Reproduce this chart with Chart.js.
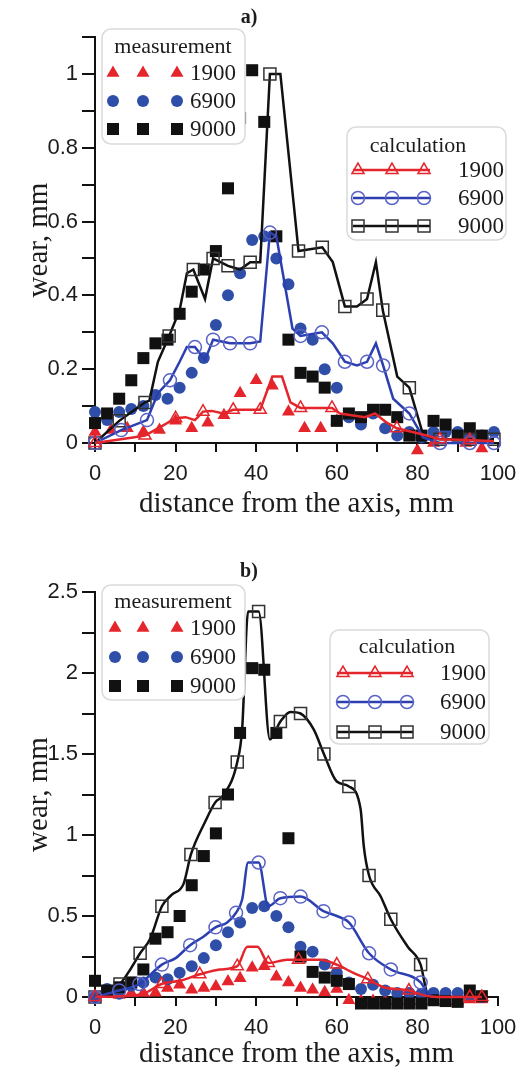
<!DOCTYPE html>
<html>
<head>
<meta charset="utf-8">
<script src="https://cdn.jsdelivr.net/npm/chart.js@4.4.0/dist/chart.umd.min.js"></script>
<style>
html, body { margin: 0; padding: 0; background: #fff; }
canvas { display: block; }
</style>
</head>
<body>
<canvas id="graficoA" width="526" height="537"></canvas>
<canvas id="graficoB" width="526" height="538"></canvas>
<script>
/* Desgaste x distância do eixo — painéis a) e b), medição vs cálculo */

// --- PAINEL A: MEDIÇÃO ---
const A_MED_X = [0, 3, 6, 9, 12, 15, 18, 21, 24, 27, 30, 33, 36, 39, 42, 45, 48, 51, 54, 57, 60, 63, 66, 69, 72, 75, 78, 81, 84, 87, 90, 93, 96, 99];
const A_MED_9000 = [0.054, 0.08, 0.12, 0.17, 0.23, 0.27, 0.28, 0.35, 0.41, 0.47, 0.52, 0.69, 0.88, 1.01, 0.87, 0.56, 0.28, 0.19, 0.18, 0.15, 0.06, 0.08, 0.07, 0.09, 0.09, 0.07, 0.02, 0.02, 0.06, 0.05, 0.02, 0.04, 0.02, null];
const A_MED_6900 = [0.084, 0.062, 0.084, 0.092, 0.10, 0.13, 0.12, 0.15, 0.19, 0.23, 0.32, 0.40, 0.46, 0.55, 0.56, 0.50, 0.43, 0.31, 0.28, 0.20, 0.15, 0.07, 0.05, 0.08, 0.04, 0.02, 0.03, 0.015, 0.03, 0.03, 0.03, 0.02, 0.02, 0.03];
const A_MED_X_1900 = [0, 4, 8, 12, 16, 20, 24, 28, 32, 36, 40, 44, 48, 52, 56, 60, 64, 68, 72, 76, 80, 84, 88, 92, 96];
const A_MED_1900 = [0.03, 0.035, 0.04, 0.03, 0.035, 0.06, 0.04, 0.055, 0.075, 0.135, 0.17, 0.155, 0.085, 0.04, 0.04, 0.06, -0.025, -0.05, -0.03, -0.03, -0.02, 0.0, -0.04, 0.0, -0.015];

// --- PAINEL A: CÁLCULO (M = posição com marcador) ---
const A_CALC_9000_X = [0, 6, 12.4, 13.5, 15.6, 18.4, 21, 22.8, 24.4, 27.3, 29.3, 33, 36, 38.5, 41, 43.4, 46, 50.5, 56.4, 59, 62, 65, 67.5, 69.7, 71.4, 75, 78, 81.6, 85.6, 93, 99];
const A_CALC_9000_Y = [0, 0.06, 0.11, 0.115, 0.22, 0.29, 0.36, 0.46, 0.47, 0.39, 0.50, 0.48, 0.47, 0.49, 0.49, 1.0, 1.0, 0.52, 0.53, 0.49, 0.37, 0.37, 0.39, 0.49, 0.36, 0.18, 0.15, 0.015, 0.01, 0.01, 0.01];
const A_CALC_9000_M = [1, 1, 1, 0, 0, 1, 0, 0, 1, 0, 1, 1, 0, 1, 0, 1, 0, 1, 1, 0, 1, 0, 1, 0, 1, 0, 1, 0, 1, 1, 1];
const A_CALC_6900_X = [0, 6.5, 12.9, 15.6, 18.6, 21, 22.8, 24.8, 27.3, 29.3, 33.5, 38.5, 41, 43.4, 45, 49, 51, 56.3, 59, 62, 65, 67.5, 69.7, 71.5, 74, 78, 81.4, 85.6, 93, 99];
const A_CALC_6900_Y = [0, 0.035, 0.062, 0.135, 0.17, 0.22, 0.26, 0.26, 0.225, 0.28, 0.27, 0.27, 0.275, 0.57, 0.56, 0.31, 0.29, 0.30, 0.27, 0.22, 0.21, 0.22, 0.27, 0.21, 0.12, 0.08, 0.015, 0.0, 0.0, 0.0];
const A_CALC_6900_M = [1, 1, 1, 0, 1, 0, 0, 1, 0, 1, 1, 1, 0, 1, 0, 0, 1, 1, 0, 1, 0, 1, 0, 1, 0, 1, 0, 1, 1, 1];
const A_CALC_1900_X = [0, 9.4, 12.4, 16.5, 20, 22.5, 24.8, 26.8, 29, 31.8, 34.3, 41, 44, 46.4, 48.5, 51, 58.8, 60.8, 67, 69.5, 72.4, 74.9, 80.6, 85.6, 93, 99];
const A_CALC_1900_Y = [0, 0.015, 0.02, 0.045, 0.067, 0.07, 0.062, 0.085, 0.087, 0.08, 0.09, 0.09, 0.18, 0.18, 0.11, 0.095, 0.095, 0.08, 0.07, 0.08, 0.055, 0.04, 0.025, 0.01, 0.008, 0.005];
const A_CALC_1900_M = [1, 0, 1, 0, 1, 0, 0, 1, 0, 0, 1, 1, 0, 0, 0, 1, 1, 0, 0, 0, 0, 1, 0, 1, 1, 0];

// --- PAINEL B: MEDIÇÃO ---
const B_MED_X = [0, 3, 6, 9, 12, 15, 18, 21, 24, 27, 30, 33, 36, 39, 42, 45, 48, 51, 54, 57, 60, 63, 66, 69, 72, 75, 78, 81, 84, 87, 90, 93, 96];
const B_MED_9000 = [0.10, 0.04, 0.06, 0.09, 0.17, 0.36, 0.40, 0.50, 0.69, 0.87, 1.01, 1.25, 1.63, 2.03, 2.02, 1.63, 0.98, 0.25, 0.155, 0.12, 0.10, 0.08, -0.04, -0.04, -0.04, -0.04, -0.04, -0.04, -0.02, -0.025, -0.03, 0.04, 0.005];
const B_MED_6900 = [0.0, 0.05, 0.02, 0.07, 0.09, 0.12, 0.11, 0.15, 0.19, 0.24, 0.32, 0.40, 0.46, 0.55, 0.56, 0.50, 0.43, 0.31, 0.28, 0.20, 0.15, 0.09, 0.05, 0.075, 0.04, 0.025, 0.025, 0.02, 0.025, 0.025, 0.025, 0.01, 0.0];
const B_MED_1900 = [0.0, 0.02, 0.013, 0.025, 0.025, 0.027, 0.055, 0.075, 0.045, 0.055, 0.065, 0.095, 0.115, 0.18, 0.19, 0.125, 0.09, 0.055, 0.045, 0.03, 0.05, -0.02, -0.025, -0.025, -0.025, -0.025, -0.025, -0.025, -0.025, -0.025, -0.025, -0.015, -0.015];

// --- PAINEL B: CÁLCULO ---
const B_CALC_9000_X = [0, 3, 6.2, 8.5, 11.2, 13.7, 16.6, 19, 22, 23.8, 27.3, 29.8, 32, 35.3, 36.5, 38, 40.6, 43.4, 46, 48.5, 51, 54.3, 56.8, 60, 63, 65.9, 66.7, 68, 70.9, 73.4, 77.6, 80.8, 82.5, 84];
const B_CALC_9000_Y = [0, 0.03, 0.08, 0.16, 0.27, 0.36, 0.56, 0.63, 0.70, 0.88, 1.08, 1.20, 1.25, 1.45, 1.65, 2.38, 2.38, 1.59, 1.70, 1.76, 1.75, 1.65, 1.50, 1.33, 1.30, 1.16, 0.93, 0.75, 0.62, 0.48, 0.31, 0.20, 0.02, 0.0];
const B_CALC_9000_M = [1, 0, 1, 0, 1, 0, 1, 0, 0, 1, 0, 1, 0, 1, 0, 0, 1, 0, 1, 0, 1, 0, 1, 0, 1, 0, 0, 1, 0, 1, 0, 1, 0, 0];
const B_CALC_6900_X = [0, 6, 11, 16.6, 20, 23.6, 26.8, 29.9, 32.8, 35, 36.5, 38, 40.6, 43, 46, 51, 56.7, 60, 63, 68, 73.4, 80.8, 82.6, 84];
const B_CALC_6900_Y = [0, 0.04, 0.08, 0.20, 0.24, 0.32, 0.37, 0.43, 0.46, 0.52, 0.60, 0.83, 0.83, 0.56, 0.61, 0.62, 0.53, 0.50, 0.46, 0.27, 0.17, 0.09, 0.02, 0];
const B_CALC_6900_M = [1, 1, 1, 1, 0, 1, 0, 1, 0, 1, 0, 0, 1, 0, 1, 1, 1, 0, 1, 1, 1, 1, 0, 0];
const B_CALC_1900_X = [0, 6, 12, 16.5, 21, 26, 31, 35.3, 37.8, 40.3, 43, 47.7, 50.5, 56, 60, 64, 67.7, 71.7, 77.9, 81.6, 85, 93, 96];
const B_CALC_1900_Y = [0, 0.005, 0.02, 0.08, 0.10, 0.14, 0.17, 0.19, 0.31, 0.31, 0.21, 0.23, 0.23, 0.23, 0.20, 0.15, 0.11, 0.06, 0.04, 0.01, 0, 0, 0];
const B_CALC_1900_M = [1, 0, 0, 1, 0, 1, 0, 1, 0, 0, 1, 0, 1, 0, 1, 0, 1, 0, 1, 0, 0, 1, 1];

// --- ESTILO ---
const FONTE_SERIF = '"Liberation Serif", "Times New Roman", serif';
const FONTE_SANS = '"Liberation Sans", Arial, sans-serif';
const VERMELHO = '#e4262c';
const AZUL = '#2f4ea8';
const AZUL_LINHA = '#2c3fb0';
const AZUL_ABERTO = '#5a63c6';
const PRETO = '#111111';
const COR_TEXTO = '#1c1c1c';

function serieMedida(rotulo, xs, ys, estilo, cor, raio) {
    return {
        label: rotulo,
        data: xs.map((x, i) => ({ x: x, y: ys[i] })).filter(p => p.y !== null && p.y !== undefined),
        showLine: false,
        pointStyle: estilo,
        pointRadius: raio,
        pointHoverRadius: raio,
        pointBackgroundColor: cor,
        pointBorderColor: cor,
        pointBorderWidth: 0,
        clip: false
    };
}

function serieCalculo(rotulo, xs, ys, marcas, estilo, corLinha, corMarca, raio, suave) {
    return {
        label: rotulo,
        data: xs.map((x, i) => ({ x: x, y: ys[i] })),
        showLine: true,
        borderColor: corLinha,
        borderWidth: 2.5,
        tension: 0,
        cubicInterpolationMode: suave ? 'monotone' : 'default',
        pointStyle: estilo,
        pointRadius: marcas.map(m => m ? raio : 0),
        pointHoverRadius: marcas.map(m => m ? raio : 0),
        pointBackgroundColor: 'rgba(0,0,0,0)',
        pointBorderColor: corMarca,
        pointBorderWidth: 1.5,
        clip: false
    };
}

function caminhoArredondado(ctx, x, y, w, h, r) {
    ctx.beginPath();
    ctx.moveTo(x + r, y);
    ctx.arcTo(x + w, y, x + w, y + h, r);
    ctx.arcTo(x + w, y + h, x, y + h, r);
    ctx.arcTo(x, y + h, x, y, r);
    ctx.arcTo(x, y, x + w, y, r);
    ctx.closePath();
}

// ✅ Legendas internas (medição / cálculo) desenhadas por cima do gráfico
const legendaPlugin = {
    id: 'legendas',
    afterDraw(chart, args, opcoes) {
        const ctx = chart.ctx;
        const conjuntos = chart.data.datasets;
        (opcoes.caixas || []).forEach(caixa => {
            ctx.save();
            caminhoArredondado(ctx, caixa.x, caixa.y, caixa.w, caixa.h, 9);
            ctx.fillStyle = '#ffffff';
            ctx.fill();
            ctx.strokeStyle = '#dadada';
            ctx.lineWidth = 1.5;
            ctx.stroke();

            ctx.fillStyle = COR_TEXTO;
            ctx.font = '22px ' + FONTE_SERIF;
            ctx.textAlign = 'center';
            ctx.textBaseline = 'middle';
            ctx.fillText(caixa.titulo, caixa.tituloX, caixa.tituloY);

            caixa.linhas.forEach(linha => {
                const ds = conjuntos[linha.indice];
                if (caixa.linhaDe !== undefined) {
                    ctx.strokeStyle = ds.borderColor;
                    ctx.lineWidth = 2.5;
                    ctx.beginPath();
                    ctx.moveTo(caixa.linhaDe, linha.y);
                    ctx.lineTo(caixa.linhaAte, linha.y);
                    ctx.stroke();
                }
                caixa.marcasX.forEach(mx => {
                    ctx.fillStyle = ds.pointBackgroundColor;
                    ctx.strokeStyle = ds.pointBorderColor;
                    ctx.lineWidth = ds.pointBorderWidth;
                    Chart.helpers.drawPoint(ctx, {
                        pointStyle: ds.pointStyle, radius: linha.raio, rotation: 0, borderWidth: ds.pointBorderWidth
                    }, mx, linha.y);
                });
                ctx.fillStyle = COR_TEXTO;
                ctx.font = '23px ' + FONTE_SERIF;
                ctx.textAlign = 'left';
                ctx.fillText(ds.label, caixa.textoX, linha.y + 1);
            });
            ctx.restore();
        });
    }
};

function montarGrafico(id, cfg) {
    return new Chart(document.getElementById(id), {
        type: 'scatter',
        data: { datasets: cfg.datasets },
        options: {
            responsive: false,
            devicePixelRatio: 1,
            animation: false,
            events: [],
            layout: { padding: { left: 0, right: 28, top: 0, bottom: 0 } },
            plugins: {
                legend: { display: false },
                tooltip: { enabled: false },
                title: {
                    display: true, text: cfg.titulo, color: COR_TEXTO,
                    font: { family: FONTE_SERIF, size: 20, weight: 'bold' },
                    padding: cfg.tituloPad
                },
                legendas: { caixas: cfg.caixas }
            },
            scales: {
                x: {
                    type: 'linear', min: 0, max: 100,
                    afterFit: s => { s.height = cfg.alturaX; },
                    ticks: {
                        stepSize: 10, autoSkip: false, maxRotation: 0, padding: 9, color: COR_TEXTO,
                        font: { family: FONTE_SANS, size: 22 },
                        callback: v => (Math.round(v) % 20 === 0 ? String(Math.round(v)) : '')
                    },
                    grid: { drawOnChartArea: false, color: PRETO, lineWidth: 2, tickLength: 9 },
                    border: { color: PRETO, width: 2 },
                    title: {
                        display: true, text: 'distance from the axis, mm', color: COR_TEXTO,
                        font: { family: FONTE_SERIF, size: 29 },
                        padding: { top: 0, bottom: cfg.tituloXPad }
                    }
                },
                y: {
                    min: 0, max: cfg.yMax,
                    afterFit: s => { s.width = 95; },
                    ticks: {
                        stepSize: cfg.yPasso, autoSkip: false, padding: 4, color: COR_TEXTO,
                        font: { family: FONTE_SANS, size: 22 },
                        callback: v => {
                            const k = Math.round(v / cfg.yPasso);
                            return k % 2 === 0 ? String(+(k * cfg.yPasso).toFixed(2)) : '';
                        }
                    },
                    grid: { drawOnChartArea: false, color: PRETO, lineWidth: 2, tickLength: 13 },
                    border: { color: PRETO, width: 2 },
                    title: {
                        display: true, text: 'wear, mm', color: COR_TEXTO,
                        font: { family: FONTE_SERIF, size: 29 },
                        padding: { top: 22, bottom: 0 }
                    }
                }
            }
        },
        plugins: [legendaPlugin]
    });
}

function conjuntos(calc, med, suave) {
    return [
        serieCalculo('1900', calc[0][0], calc[0][1], calc[0][2], 'triangle', VERMELHO, VERMELHO, 7, suave),
        serieCalculo('6900', calc[1][0], calc[1][1], calc[1][2], 'circle', AZUL_LINHA, AZUL_ABERTO, 6.5, suave),
        serieCalculo('9000', calc[2][0], calc[2][1], calc[2][2], 'rect', PRETO, '#333333', 8.5, suave),
        serieMedida('9000', med[2][0], med[2][1], 'rect', PRETO, 8.5),
        serieMedida('6900', med[1][0], med[1][1], 'circle', AZUL, 6),
        serieMedida('1900', med[0][0], med[0][1], 'triangle', VERMELHO, 7.5)
    ];
}

montarGrafico('graficoA', {
    titulo: 'a)',
    tituloPad: { top: 6, bottom: 7 },
    alturaX: 94,
    tituloXPad: 15,
    yMax: 1.1,
    yPasso: 0.1,
    datasets: conjuntos(
        [[A_CALC_1900_X, A_CALC_1900_Y, A_CALC_1900_M], [A_CALC_6900_X, A_CALC_6900_Y, A_CALC_6900_M], [A_CALC_9000_X, A_CALC_9000_Y, A_CALC_9000_M]],
        [[A_MED_X_1900, A_MED_1900], [A_MED_X, A_MED_6900], [A_MED_X, A_MED_9000]],
        false
    ),
    caixas: [
        {
            x: 102, y: 29, w: 143, h: 115, titulo: 'measurement', tituloX: 173, tituloY: 47,
            marcasX: [113, 143, 177], textoX: 190,
            linhas: [{ indice: 5, y: 73, raio: 7.5 }, { indice: 4, y: 101, raio: 6 }, { indice: 3, y: 129, raio: 8.5 }]
        },
        {
            x: 347, y: 127, w: 159, h: 113, titulo: 'calculation', tituloX: 418, tituloY: 146,
            marcasX: [358, 392, 424], textoX: 458, linhaDe: 353, linhaAte: 430,
            linhas: [{ indice: 0, y: 170, raio: 7 }, { indice: 1, y: 198, raio: 6.5 }, { indice: 2, y: 226, raio: 8.5 }]
        }
    ]
});

montarGrafico('graficoB', {
    titulo: 'b)',
    tituloPad: { top: 23, bottom: 8 },
    alturaX: 78,
    tituloXPad: 3,
    yMax: 2.5,
    yPasso: 0.25,
    datasets: conjuntos(
        [[B_CALC_1900_X, B_CALC_1900_Y, B_CALC_1900_M], [B_CALC_6900_X, B_CALC_6900_Y, B_CALC_6900_M], [B_CALC_9000_X, B_CALC_9000_Y, B_CALC_9000_M]],
        [[B_MED_X, B_MED_1900], [B_MED_X, B_MED_6900], [B_MED_X, B_MED_9000]],
        true
    ),
    caixas: [
        {
            x: 102, y: 48, w: 143, h: 115, titulo: 'measurement', tituloX: 173, tituloY: 65,
            marcasX: [115, 143, 177], textoX: 190,
            linhas: [{ indice: 5, y: 91, raio: 7.5 }, { indice: 4, y: 120, raio: 6 }, { indice: 3, y: 149, raio: 8.5 }]
        },
        {
            x: 330, y: 93, w: 159, h: 114, titulo: 'calculation', tituloX: 407, tituloY: 110,
            marcasX: [343, 375, 407], textoX: 440, linhaDe: 337, linhaAte: 413,
            linhas: [{ indice: 0, y: 136, raio: 7 }, { indice: 1, y: 165, raio: 6.5 }, { indice: 2, y: 195, raio: 8.5 }]
        }
    ]
});
</script>
</body>
</html>
